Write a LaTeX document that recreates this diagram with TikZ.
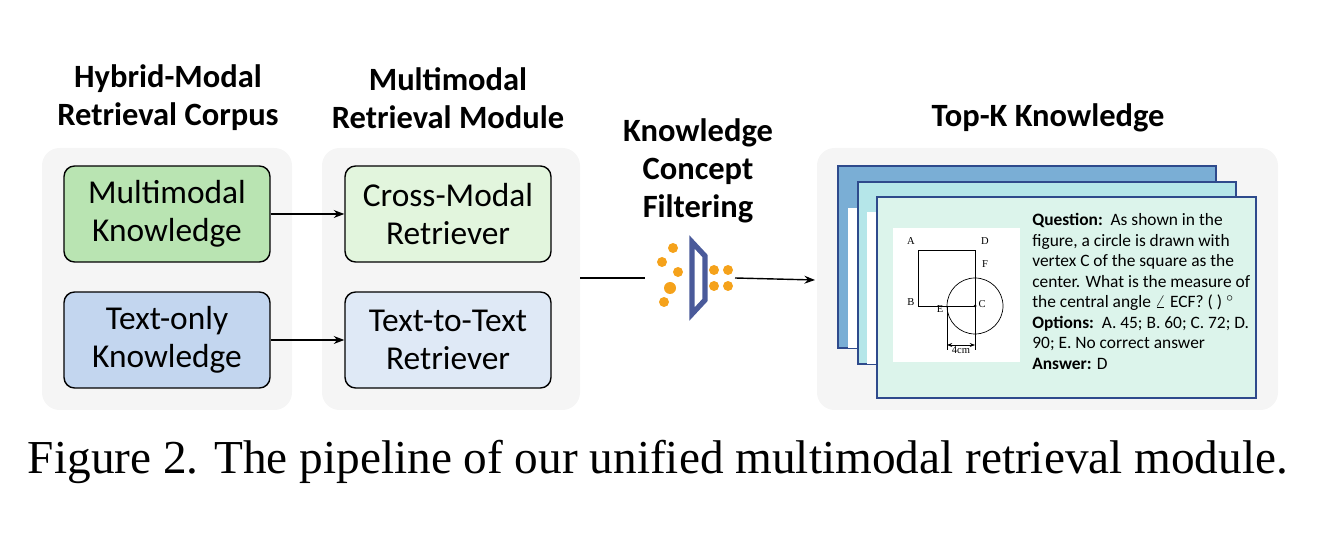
\documentclass[tikz,border=0pt]{standalone}
\usepackage{fontspec}
\setmainfont{Carlito}
\newfontfamily\capfont{Liberation Serif}
\usetikzlibrary{arrows.meta,positioning}
\definecolor{mmgreen}{HTML}{B9E4B2}
\definecolor{txblue}{HTML}{C3D6EF}
\definecolor{cmgreen}{HTML}{E2F5DD}
\definecolor{ttblue}{HTML}{DFE9F6}
\definecolor{cardA}{HTML}{7AAED5}
\definecolor{cardB}{HTML}{B5E6E9}
\definecolor{cardC}{HTML}{DCF4EB}
\definecolor{cardline}{HTML}{2E4A8C}
\definecolor{filt}{HTML}{4A5A9A}
\definecolor{dotc}{HTML}{F5A21B}
\tikzset{
  panel/.style={rounded corners=10pt,fill=gray!8,draw=none},
  title/.style={font=\fontsize{18.5}{21.5}\selectfont\bfseries,align=center},
  kbox/.style={rounded corners=6pt,draw=black,thick,minimum width=4.12cm,minimum height=1.92cm,align=center,font=\fontsize{19}{21.5}\selectfont},
  card/.style={draw=cardline,thick},
  dot/.style={circle,fill=dotc,inner sep=0pt,minimum size=0.2cm},
  lbl/.style={font=\fontsize{6}{6}\selectfont\capfont,inner sep=0pt},
  flow/.style={thick,-{Stealth[length=6pt]}}
}
\begin{document}
\begin{tikzpicture}[x=0.02cm,y=-0.02cm]
\useasboundingbox (0,0) rectangle (1338,546);
% panels
\fill[panel] (42,148) rectangle (292,410);
\fill[panel] (322,148) rectangle (580,410);
\fill[panel] (817,148) rectangle (1278,410);
% titles
\node[title] (tcorpus) at (168,98) {Hybrid-Modal\\Retrieval Corpus};
\node[title] (tmodule) at (448,98) {Multimodal\\Retrieval Module};
\node[title] (tfilter) at (698,171) {Knowledge\\Concept\\Filtering};
\node[title] (ttopk) at (1048,118) {Top-K Knowledge};
% boxes
\node[kbox,fill=mmgreen] (mmk) at (167,214) {Multimodal\\Knowledge};
\node[kbox,fill=txblue] (txk) at (167,340) {Text-only\\Knowledge};
\node[kbox,fill=cmgreen] (cmr) at (448,214) {Cross-Modal\\Retriever};
\node[kbox,fill=ttblue] (ttr) at (448,340) {Text-to-Text\\Retriever};
\draw[flow] (mmk) -- (cmr);
\draw[flow] (txk) -- (ttr);
% filter
\coordinate (fin) at (580,278);
\coordinate (fa) at (645,278);
\coordinate (fb) at (735,278);
\coordinate (fout) at (815,280);
\draw[thick] (fin) -- (fa);
\draw[line width=3pt,draw=filt,line join=miter] (692,242) -- (705,256) -- (705,300) -- (692,314) -- cycle;
\foreach \x/\y/\s in {673/248/0.2,662/262/0.2,678/272/0.2,670/288/0.24,664/302/0.2,714/270/0.2,728/270/0.2,714/286/0.2,728/286/0.2}
  \node[dot,minimum size=\s cm] at (\x,\y) {};
\draw[flow] (fb) -- (fout);
% cards
\filldraw[card,fill=cardA] (838,166) rectangle (1216,348);
\fill[white] (848,208) rectangle (858,348);
\filldraw[card,fill=cardB] (858,182) rectangle (1236,364);
\fill[white] (867,212) rectangle (877,364);
\filldraw[card,fill=cardC] (877,197) rectangle (1256,398);
% figure
\fill[white] (893,228) rectangle (1020,362);
\draw[thin] (918,250) rectangle (975,306);
\draw[thin] (975,306) circle[radius=28];
\fill (975,306) circle[radius=1.5];
\draw[thin] (947,306) -- (947,350) (975,306) -- (975,350);
\draw[thin,{Stealth[length=3pt]}-{Stealth[length=3pt]}] (947,345) -- (975,345);
\node[lbl] at (911,241) {A};
\node[lbl] at (985,241) {D};
\node[lbl] at (985,264) {F};
\node[lbl] at (911,302) {B};
\node[lbl] at (940,309) {E};
\node[lbl] at (982,304) {C};
\node[lbl] at (961,350) {4cm};
% question text
\node[anchor=north west,align=left,font=\fontsize{9.9}{11.7}\selectfont,inner sep=0pt] (qtext) at (1032,213) {%
\textbf{Question:}\ \ As shown in the\\
figure, a circle is drawn with\\
vertex C of the square as the\\
center. What is the measure of\\
the central angle $\angle$ ECF? ( ) $^\circ$\\
\textbf{Options:}\ \ A. 45; B. 60; C. 72; D.\\
90; E. No correct answer\\
\textbf{Answer:} D};
% caption
\node[font=\capfont\fontsize{26.9}{31}\selectfont] (caption) at (658,462) {Figure 2. The pipeline of our unified multimodal retrieval module.};
\end{tikzpicture}
\end{document}
